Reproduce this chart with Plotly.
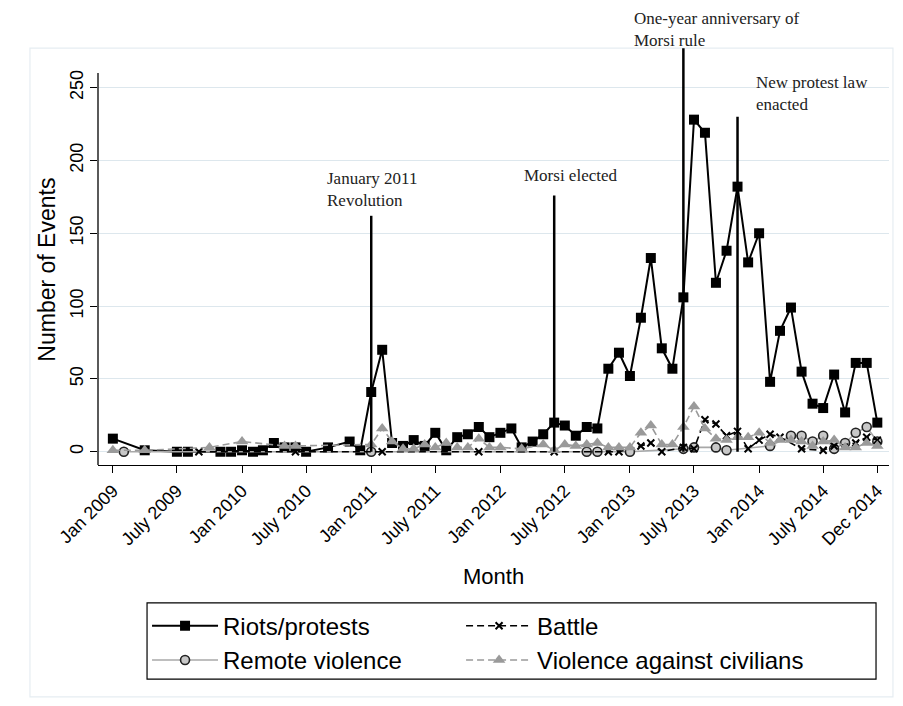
import pandas as pd
import plotly.graph_objects as go

months = pd.date_range("2009-01-01", periods=72, freq="MS")
N = None

riots = [9, N, N, 1, N, N, 0, 0, N, N, 0, 0,
         1, 0, 1, 6, 3, 3, 0, N, 3, N, 7, 1,
         41, 70, 6, 4, 8, 4, 13, 1, 10, 12, 17, 10,
         13, 16, 3, 7, 12, 20, 18, 11, 17, 16, 57, 68,
         52, 92, 133, 71, 57, 106, 228, 219, 116, 138, 182, 130,
         150, 48, 83, 99, 55, 33, 30, 53, 27, 61, 61, 20]

remote = [N, 0, N, N, N, N, N, N, N, N, N, N,
          N, N, N, N, N, N, N, N, N, N, N, N,
          0, N, N, N, N, N, N, N, N, N, N, N,
          N, N, N, N, N, N, N, N, 0, 0, N, N,
          0, N, N, N, N, 2, 3, N, 3, 1, N, N,
          N, 4, N, 11, 11, 7, 11, 2, 6, 13, 17, 7]

battle = [N, N, N, N, N, N, N, N, 0, N, N, N,
          N, N, N, N, N, 0, N, N, N, N, N, N,
          N, 0, N, N, N, N, N, N, N, N, 0, N,
          N, N, N, N, N, 0, N, N, N, N, 0, 0,
          N, 4, 6, 0, N, 3, 2, 22, 19, 11, 14, 2,
          8, 12, 10, N, 2, N, 1, 4, N, 6, 10, 8]

civilians = [1, N, N, 1, N, N, N, N, N, 3, N, N,
             7, N, N, N, 4, 4, N, N, N, N, N, N,
             5, 16, 7, 2, 2, 5, 3, 6, 3, 3, 9, 3,
             3, N, 2, N, 5, 1, 5, 4, 5, 6, 3, 3,
             3, 13, 18, 5, 5, 17, 31, 16, 9, 8, 10, 10,
             13, 6, 8, 8, 7, 4, 7, 8, 3, 3, 6, 4]

tick_dates = ["2009-01-01", "2009-07-01", "2010-01-01", "2010-07-01", "2011-01-01",
              "2011-07-01", "2012-01-01", "2012-07-01", "2013-01-01", "2013-07-01",
              "2014-01-01", "2014-07-01", "2014-12-01"]
tick_labels = ["Jan 2009", "July 2009", "Jan 2010", "July 2010", "Jan 2011",
               "July 2011", "Jan 2012", "July 2012", "Jan 2013", "July 2013",
               "Jan 2014", "July 2014", "Dec 2014"]
y_ticks = [0, 50, 100, 150, 200, 250]

event_dates = ["2011-01-01", "2012-06-01", "2013-06-01", "2013-11-01"]
event_tops = [162, 176, 277, 230]
event_labels = ["January 2011<br>Revolution", "Morsi elected",
                "One-year anniversary of<br>Morsi rule", "New protest law<br>enacted"]
label_y = [180, 190, 281, 246]
label_yshift = [0, 0, 13, 0]
label_shift = [-46, -32, -51, 16]

SANS = "Liberation Sans, Arial, Helvetica, sans-serif"
SERIF = "Liberation Serif, Times New Roman, serif"
GRAY = "#9a9a9a"

fig = go.Figure()
fig.add_trace(go.Scatter(
    x=months, y=riots, name="Riots/protests", mode="lines+markers", connectgaps=True,
    line=dict(color="black", width=2),
    marker=dict(symbol="square", size=10, color="black"), legend="legend"))
fig.add_trace(go.Scatter(
    x=months, y=remote, name="Remote violence", mode="lines+markers", connectgaps=True,
    line=dict(color="#a8a8a8", width=1.6),
    marker=dict(symbol="circle", size=9, color="#c8c8c8", line=dict(color="#222222", width=1.6)),
    legend="legend"))
fig.add_trace(go.Scatter(
    x=months, y=battle, name="Battle", mode="lines+markers", connectgaps=True,
    line=dict(color="black", width=1.6, dash="7px,4px"),
    marker=dict(symbol="x-thin", size=7, color="black", line=dict(color="black", width=2)),
    legend="legend2"))
fig.add_trace(go.Scatter(
    x=months, y=civilians, name="Violence against civilians", mode="lines+markers",
    connectgaps=True,
    line=dict(color=GRAY, width=1.6, dash="7px,4px"),
    marker=dict(symbol="triangle-up", size=11, color=GRAY), legend="legend2"))

shapes = []
for d, top in zip(event_dates, event_tops):
    shapes.append(dict(type="line", xref="x", yref="y", x0=d, x1=d, y0=0, y1=top,
                       line=dict(color="black", width=2.5), layer="above"))
# y axis line (stops at the top of the labelled range)
shapes.append(dict(type="line", xref="paper", yref="y", x0=0, x1=0, y0=-9.1, y1=260,
                   line=dict(color="black", width=1.3)))
# faint outer graph frame
shapes.append(dict(type="rect", xref="paper", yref="paper", x0=-0.086, x1=1.005,
                   y0=-0.547, y1=0.983, line=dict(color="#e6edf2", width=1.2), layer="below"))
# legend box
shapes.append(dict(type="rect", xref="paper", yref="paper", x0=0.062, x1=0.9836,
                   y0=-0.505, y1=-0.325, line=dict(color="black", width=1.2)))

annotations = []
for d, txt, ly, ys, sh in zip(event_dates, event_labels, label_y, label_yshift, label_shift):
    annotations.append(dict(x=d, y=ly, xref="x", yref="y", text=txt, showarrow=False,
                            xanchor="left", yanchor="middle", align="left",
                            xshift=sh, yshift=ys,
                            font=dict(family=SERIF, size=17, color="#222222")))
annotations.append(dict(x=0, y=125, xref="paper", yref="y", text="Number of Events",
                        showarrow=False, textangle=-90, xanchor="center", yanchor="middle",
                        xshift=-51, font=dict(family=SANS, size=23, color="black")))
annotations.append(dict(x=0.5, y=-0.264, xref="paper", yref="paper", text="Month",
                        showarrow=False, xanchor="center", yanchor="middle",
                        font=dict(family=SANS, size=22, color="black")))

legend_common = dict(orientation="v", y=-0.327, xanchor="left", yanchor="top",
                     itemwidth=66, font=dict(family=SANS, size=24, color="black"),
                     bgcolor="rgba(0,0,0,0)", borderwidth=0, tracegroupgap=0)

fig.update_layout(
    width=895, height=698,
    margin=dict(l=90, r=14, t=33, b=241, autoexpand=False),
    paper_bgcolor="white", plot_bgcolor="white",
    font=dict(family=SANS, color="black"),
    showlegend=True,
    legend=dict(x=0.062, **legend_common),
    legend2=dict(x=0.459, **legend_common),
    shapes=shapes, annotations=annotations,
)
fig.update_xaxes(
    type="date", range=["2008-11-20", "2015-01-03"], automargin=False,
    tickvals=tick_dates, ticktext=tick_labels, tickangle=-45,
    tickfont=dict(family=SANS, size=18, color="black"),
    showline=True, linecolor="black", linewidth=1.3,
    ticks="outside", ticklen=7, tickcolor="black", tickwidth=1.3,
    showgrid=False, zeroline=False)
fig.update_yaxes(
    range=[-9.1, 282], tickvals=y_ticks, tickangle=-90, automargin=False,
    tickfont=dict(family=SANS, size=18, color="black"),
    showline=False, ticks="outside", ticklen=7, tickcolor="black", tickwidth=1.3,
    showgrid=True, gridcolor="#dde7ed", gridwidth=1, zeroline=False)

fig.write_html("out.html")
